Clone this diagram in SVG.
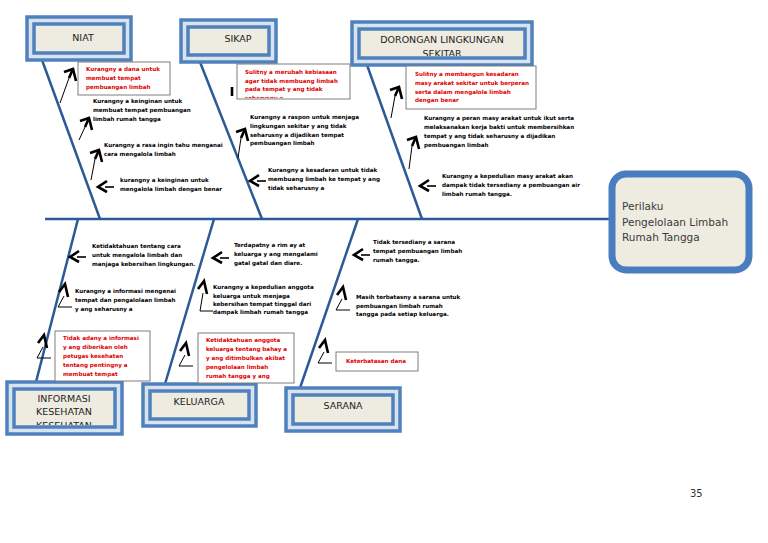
<svg xmlns="http://www.w3.org/2000/svg" xmlns:xlink="http://www.w3.org/1999/xlink" width="768" height="543" viewBox="0 0 768 543">
<style>
.bone{stroke:#2C5A96;stroke-width:2.5;fill:none}
.chev{stroke:#000;stroke-width:2.6;fill:none;stroke-linejoin:miter;stroke-linecap:butt}
.shaft{stroke:#000;stroke-width:1;fill:none}
.dash{stroke:#000;stroke-width:1.6;fill:none}
.cause{font-family:"DejaVu Sans",Verdana,sans-serif;font-size:5.6px;font-weight:bold;fill:#000}
.red{fill:#E00000}
.rbox{fill:#fff;stroke:#7F7F7F;stroke-width:1}
.cato{fill:#D9E2EF;stroke:#4F81BD;stroke-width:3.5}
.cati{fill:#EEECE1;stroke:#4F81BD;stroke-width:3.5}
.catt{font-family:"DejaVu Sans",sans-serif;font-size:9.5px;fill:#222;text-anchor:middle}
.headt{font-family:"DejaVu Sans",sans-serif;font-size:10.5px;fill:#3A3A3A}
</style>
<defs>
<g id="la"><path class="chev" d="M9,-6 L0,0 L9,5"/><path class="dash" d="M7,0 L16,0"/></g>
<g id="ba"><path class="chev" d="M-6,8 L0,0 L3,13"/><path class="shaft" d="M-1,12 L-7,23 L7,23"/></g>
<g id="ta"><path class="chev" d="M-9,3 L0,0 L3,12"/><path class="chev" d="M0,0 L-4,9"/></g>
<clipPath id="cD"><rect x="361" y="31" width="162" height="25"/></clipPath>
<clipPath id="cI"><rect x="16" y="391" width="97" height="34"/></clipPath>
<clipPath id="cS1"><rect x="237" y="64" width="113" height="34"/></clipPath>
<clipPath id="cI3"><rect x="55" y="331" width="95" height="49"/></clipPath>
<clipPath id="cK3"><rect x="198" y="333" width="96" height="49"/></clipPath>
</defs>
<rect width="768" height="543" fill="#fff"/>

<g id="connectors">
<path class="bone" d="M45,219 L612,219"/>
<path class="bone" d="M42,60 L100,219"/>
<path class="bone" d="M200,62 L262,219"/>
<path class="bone" d="M367,65 L422,219"/>
<path class="bone" d="M78,219 L36,382"/>
<path class="bone" d="M214,219 L165,384"/>
<path class="bone" d="M358,219 L300,388"/>
<!-- top arrows -->
<use xlink:href="#ta" href="#ta" x="73" y="69"/><path class="shaft" d="M69,78 L60,103"/>
<use xlink:href="#ta" href="#ta" x="89" y="118"/><path class="shaft" d="M85,127 L79,140"/>
<use xlink:href="#ta" href="#ta" x="99" y="150"/><path class="shaft" d="M95,159 L91,180"/>
<use xlink:href="#la" href="#la" x="98" y="187"/>
<path class="chev" d="M232,87 L232,96"/>
<use xlink:href="#ta" href="#ta" x="245" y="129"/><path class="shaft" d="M241,138 L238,158"/>
<use xlink:href="#la" href="#la" x="250" y="181"/>
<use xlink:href="#ta" href="#ta" x="399" y="87"/><path class="shaft" d="M395,96 L391,118"/>
<use xlink:href="#ta" href="#ta" x="416" y="137"/><path class="shaft" d="M412,146 L409,169"/>
<use xlink:href="#la" href="#la" x="420" y="186"/>
<!-- bottom arrows -->
<use xlink:href="#la" href="#la" x="70" y="257"/>
<use xlink:href="#ba" href="#ba" x="65" y="284"/>
<use xlink:href="#ba" href="#ba" x="44" y="335"/>
<use xlink:href="#la" href="#la" x="213" y="258"/>
<path class="chev" d="M198,289 L204,281 L207,294"/><path class="shaft" d="M203,293 L200,311 L213,311"/>
<use xlink:href="#ba" href="#ba" x="186" y="343"/>
<use xlink:href="#la" href="#la" x="354" y="255"/>
<use xlink:href="#ba" href="#ba" x="343" y="287"/>
<use xlink:href="#ba" href="#ba" x="325" y="340"/>
</g>

<g id="cat-niat">
<rect class="cato" x="27" y="17" width="104" height="43"/>
<rect class="cati" x="34" y="24" width="90" height="29"/>
<text class="catt" x="83" y="41">NIAT</text>
</g>
<g id="cat-sikap">
<rect class="cato" x="181" y="20" width="95" height="42"/>
<rect class="cati" x="188" y="27" width="81" height="28"/>
<text class="catt" x="238" y="42">SIKAP</text>
</g>
<g id="cat-dorongan">
<rect class="cato" x="352" y="22" width="180" height="43"/>
<rect class="cati" x="359" y="29" width="166" height="29"/>
<g clip-path="url(#cD)">
<text class="catt" x="442" y="43">DORONGAN LINGKUNGAN</text>
<text class="catt" x="442" y="57">SEKITAR</text>
</g>
</g>
<g id="cat-informasi">
<rect class="cato" x="7" y="382" width="115" height="52"/>
<rect class="cati" x="14" y="389" width="101" height="38"/>
<g clip-path="url(#cI)">
<text class="catt" x="64" y="402">INFORMASI</text>
<text class="catt" x="64" y="415">KESEHATAN</text>
<text class="catt" x="64" y="429">KESEHATAN</text>
</g>
</g>
<g id="cat-keluarga">
<rect class="cato" x="143" y="384" width="113" height="42"/>
<rect class="cati" x="150" y="391" width="99" height="28"/>
<text class="catt" x="199" y="405">KELUARGA</text>
</g>
<g id="cat-sarana">
<rect class="cato" x="286" y="388" width="114" height="43"/>
<rect class="cati" x="293" y="395" width="100" height="29"/>
<text class="catt" x="343" y="409">SARANA</text>
</g>

<g id="head">
<rect x="612" y="174" width="137" height="96" rx="14" fill="#EEECE1" stroke="#4A7CC0" stroke-width="7"/>
<text class="headt" x="622" y="210">Perilaku</text>
<text class="headt" x="622" y="226">Pengelolaan Limbah</text>
<text class="headt" x="622" y="241">Rumah Tangga</text>
</g>

<g id="n1">
<rect class="rbox" x="78" y="62" width="92" height="33"/>
<text class="cause red" x="86" y="71">Kurangny a dana untuk</text>
<text class="cause red" x="86" y="80">membuat tempat</text>
<text class="cause red" x="86" y="89">pembuangan limbah</text>
</g>
<g id="n2">
<text class="cause" x="93" y="103">Kurangny a keinginan untuk</text>
<text class="cause" x="93" y="112">membuat tempat pembuangan</text>
<text class="cause" x="93" y="121">limbah rumah tangga</text>
</g>
<g id="n3">
<text class="cause" x="104" y="147">Kurangny a rasa ingin tahu menganai</text>
<text class="cause" x="104" y="156">cara mengalola limbah</text>
</g>
<g id="n4">
<text class="cause" x="120" y="182">kurangny a keinginan untuk</text>
<text class="cause" x="120" y="191">mengalola limbah dengan benar</text>
</g>

<g id="s1">
<rect class="rbox" x="237" y="64" width="113" height="35"/>
<g clip-path="url(#cS1)">
<text class="cause red" x="245" y="74">Sulitny a merubah kebiasaan</text>
<text class="cause red" x="245" y="82.7">agar tidak membuang limbah</text>
<text class="cause red" x="245" y="91.4">pada tempat y ang tidak</text>
<text class="cause red" x="245" y="100.1">seharusny a</text>
</g>
</g>
<g id="s2">
<text class="cause" x="250" y="119">Kurangny a raspon untuk menjaga</text>
<text class="cause" x="250" y="128">lingkungan sekitar y ang tidak</text>
<text class="cause" x="250" y="137">seharusny a dijadikan tempat</text>
<text class="cause" x="250" y="145">pembuangan limbah</text>
</g>
<g id="s3">
<text class="cause" x="268" y="172">Kurangny a kesadaran untuk tidak</text>
<text class="cause" x="268" y="181">membuang limbah ke tempat y ang</text>
<text class="cause" x="268" y="190">tidak seharusny a</text>
</g>

<g id="d1">
<rect class="rbox" x="406" y="66" width="130" height="43"/>
<text class="cause red" x="415" y="76">Sulitny a membangun kesadaran</text>
<text class="cause red" x="415" y="85">masy arakat sekitar untuk berperan</text>
<text class="cause red" x="415" y="93.5">serta dalam mengalola limbah</text>
<text class="cause red" x="415" y="102">dengan benar</text>
</g>
<g id="d2">
<text class="cause" x="424" y="120">Kurangny a peran  masy arakat untuk ikut serta</text>
<text class="cause" x="424" y="129">melaksanakan kerja bakti untuk membersihkan</text>
<text class="cause" x="424" y="138">tempat y ang tidak seharusny a dijadikan</text>
<text class="cause" x="424" y="147">pembuangan limbah</text>
</g>
<g id="d3">
<text class="cause" x="442" y="178">Kurangny a kepedulian masy arakat akan</text>
<text class="cause" x="442" y="187">dampak tidak tersediany a pembuangan air</text>
<text class="cause" x="442" y="196">limbah rumah tangga.</text>
</g>

<g id="i1">
<text class="cause" x="92" y="248">Ketidaktahuan tentang cara</text>
<text class="cause" x="92" y="257">untuk mengalola limbah dan</text>
<text class="cause" x="92" y="266">manjaga kebersihan lingkungan.</text>
</g>
<g id="i2">
<text class="cause" x="75" y="293">Kurangny a informasi mengenai</text>
<text class="cause" x="75" y="302">tempat dan pengalolaan limbah</text>
<text class="cause" x="75" y="311">y ang seharusny a</text>
</g>
<g id="i3">
<rect class="rbox" x="55" y="331" width="95" height="50"/>
<g clip-path="url(#cI3)">
<text class="cause red" x="63" y="340">Tidak adany a informasi</text>
<text class="cause red" x="63" y="349">y ang diberikan oleh</text>
<text class="cause red" x="63" y="358">petugas kesehatan</text>
<text class="cause red" x="63" y="367">tentang pentingny a</text>
<text class="cause red" x="63" y="376">membuat tempat</text>
</g>
</g>

<g id="k1">
<text class="cause" x="234" y="247">Terdapatny a rim ay at</text>
<text class="cause" x="234" y="256">keluarga y ang mengalami</text>
<text class="cause" x="234" y="265">gatal gatal dan diare.</text>
</g>
<g id="k2">
<text class="cause" x="213" y="289">Kurangny a kepedulian anggota</text>
<text class="cause" x="213" y="297.5">keluarga untuk menjaga</text>
<text class="cause" x="213" y="306">kebersihan tempat tinggal dari</text>
<text class="cause" x="213" y="314">dampak limbah rumah tangga</text>
</g>
<g id="k3">
<rect class="rbox" x="198" y="333" width="96" height="50"/>
<g clip-path="url(#cK3)">
<text class="cause red" x="206" y="342">Ketidaktahuan anggota</text>
<text class="cause red" x="206" y="351">keluarga tentang bahay a</text>
<text class="cause red" x="206" y="360">y ang ditimbulkan akibat</text>
<text class="cause red" x="206" y="369">pengelolaan limbah</text>
<text class="cause red" x="206" y="377.5">rumah tangga y ang</text>
</g>
</g>

<g id="r1">
<text class="cause" x="373" y="244">Tidak tersediany a sarana</text>
<text class="cause" x="373" y="253">tempat pembuangan limbah</text>
<text class="cause" x="373" y="262">rumah tangga.</text>
</g>
<g id="r2">
<text class="cause" x="356" y="299">Masih terbatasny a sarana untuk</text>
<text class="cause" x="356" y="307.5">pembuangan limbah rumah</text>
<text class="cause" x="356" y="316">tangga pada setiap keluarga.</text>
</g>
<g id="r3">
<rect class="rbox" x="336" y="352" width="82" height="19"/>
<text class="cause red" x="346" y="363">Keterbatasan dana</text>
</g>

<text x="690" y="497" font-family="'DejaVu Sans',sans-serif" font-size="10" fill="#333">35</text>
</svg>
